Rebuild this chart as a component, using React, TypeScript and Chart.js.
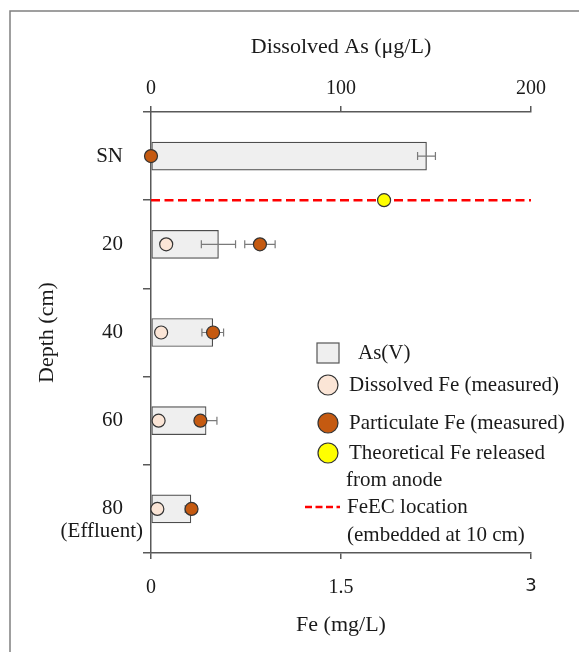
import React, { useEffect, useRef } from 'react';
import { Chart, registerables } from 'chart.js';

Chart.register(...registerables);

// ---- data ----
const depthLabels = ['SN', '20', '40', '60', '80'];
const depthIndex = [0, 1, 2, 3, 4];
const asV = [145, 35.5, 32.5, 29, 21];
const asVErr = [4.7, 9, 5.7, 5.7, 3];
const dissolvedFe: (number | null)[] = [null, 0.12, 0.08, 0.06, 0.05];
const particulateFe = [0, 0.86, 0.49, 0.39, 0.32];
const particulateFeErr = [0, 0.12, 0, 0, 0];
const feecPosition = 0.5; // 10 cm, between SN and 20
const theoreticalFe = [1.84];
const asTicks = [0, 100, 200];
const feTicks = [0, 1.5, 3];
const feRange = [0, 3];

const SERIF = '"Liberation Serif", "Times New Roman", serif';
const AXIS = '#595959';
const TEXT = '#1a1a1a';

function drawErr(ctx: CanvasRenderingContext2D, xs: any, ys: any, vals: number[], errs: number[]) {
  ctx.save();
  ctx.strokeStyle = '#7a7a7a';
  ctx.lineWidth = 1.2;
  vals.forEach((v, i) => {
    const e = errs[i];
    if (!e) return;
    const x1 = xs.getPixelForValue(v - e);
    const x2 = xs.getPixelForValue(v + e);
    const yc = ys.getPixelForValue(depthIndex[i]);
    ctx.beginPath();
    ctx.moveTo(x1, yc);
    ctx.lineTo(x2, yc);
    ctx.moveTo(x1, yc - 4);
    ctx.lineTo(x1, yc + 4);
    ctx.moveTo(x2, yc - 4);
    ctx.lineTo(x2, yc + 4);
    ctx.stroke();
  });
  ctx.restore();
}

const errorBarPlugin = {
  id: 'errorBars',
  afterDatasetDraw(chart: any, args: any) {
    if (args.index === 0) drawErr(chart.ctx, chart.scales.xAs, chart.scales.y, asV, asVErr);
  },
  beforeDatasetDraw(chart: any, args: any) {
    if (args.index === 3) drawErr(chart.ctx, chart.scales.xFe, chart.scales.y, particulateFe, particulateFeErr);
  },
};

const framePlugin = {
  id: 'frame',
  beforeDraw(chart: any) {
    const ctx = chart.ctx;
    ctx.save();
    ctx.strokeStyle = '#808080';
    ctx.lineWidth = 1.5;
    ctx.beginPath();
    ctx.moveTo(10, chart.height);
    ctx.lineTo(10, 11);
    ctx.lineTo(chart.width, 11);
    ctx.stroke();
    ctx.restore();
  },
};

const extrasPlugin = {
  id: 'extras',
  afterDraw(chart: any) {
    const ctx = chart.ctx as CanvasRenderingContext2D;
    const { left } = chart.chartArea;
    const ys = chart.scales.y;
    ctx.save();
    ctx.fillStyle = TEXT;
    ctx.font = `21px ${SERIF}`;
    ctx.textAlign = 'right';
    ctx.textBaseline = 'middle';
    ctx.fillText('(Effluent)', left - 8, ys.getPixelForValue(4) + 23);

    // legend
    const lx = left + 166;
    const tx = left + 198;
    ctx.textAlign = 'left';
    ctx.lineWidth = 1.2;
    // As(V)
    ctx.fillStyle = '#efefef';
    ctx.strokeStyle = '#555';
    ctx.fillRect(lx, 343, 22, 20);
    ctx.strokeRect(lx, 343, 22, 20);
    ctx.fillStyle = TEXT;
    ctx.fillText('As(V)', tx + 9, 353);
    const circ = (cy: number, fill: string) => {
      ctx.beginPath();
      ctx.arc(lx + 11, cy, 10, 0, Math.PI * 2);
      ctx.fillStyle = fill;
      ctx.fill();
      ctx.strokeStyle = '#333';
      ctx.stroke();
      ctx.fillStyle = TEXT;
    };
    circ(385, '#fbe5d6');
    ctx.fillText('Dissolved Fe (measured)', tx, 385);
    circ(423, '#c55a11');
    ctx.fillText('Particulate Fe (measured)', tx, 423);
    circ(453, '#ffff00');
    ctx.fillText('Theoretical Fe released', tx, 453);
    ctx.fillText('from anode', tx - 3, 480);
    ctx.save();
    ctx.strokeStyle = '#ff0000';
    ctx.lineWidth = 2.5;
    ctx.setLineDash([7, 3.5]);
    ctx.beginPath();
    ctx.moveTo(lx - 12, 507);
    ctx.lineTo(lx + 23, 507);
    ctx.stroke();
    ctx.restore();
    ctx.fillText('FeEC location', tx - 2, 507);
    ctx.fillText('(embedded at 10 cm)', tx - 2, 535);
    ctx.restore();
  },
};

export default function App() {
  const ref = useRef<HTMLCanvasElement | null>(null);
  useEffect(() => {
    if (!ref.current) return;
    const tickFont = { family: SERIF, size: 20 };
    const titleFont = { family: SERIF, size: 22 };
    const chart = new Chart(ref.current, {
      type: 'bar',
      data: {
        datasets: [
          {
            type: 'bar',
            label: 'As(V)',
            indexAxis: 'y',
            data: depthIndex.map((d, i) => ({ x: asV[i], y: d })),
            xAxisID: 'xAs',
            yAxisID: 'y',
            backgroundColor: '#efefef',
            borderColor: '#4d4d4d',
            borderWidth: 1.2,
            borderSkipped: false,
            barThickness: 28,
            grouped: false,
            clip: false,
            order: 5,
          } as any,
          {
            type: 'line',
            label: 'FeEC location',
            data: feRange.map((v) => ({ x: v, y: feecPosition })),
            xAxisID: 'xFe',
            yAxisID: 'y',
            borderColor: '#ff0000',
            borderWidth: 2.5,
            borderDash: [9, 4.5],
            pointRadius: 0,
            fill: false,
            clip: false,
            order: 4,
          } as any,
          {
            type: 'scatter',
            label: 'Dissolved Fe (measured)',
            data: depthIndex
              .map((d, i) => ({ x: dissolvedFe[i], y: d }))
              .filter((p) => p.x !== null),
            xAxisID: 'xFe',
            yAxisID: 'y',
            backgroundColor: '#fbe5d6',
            borderColor: '#333333',
            borderWidth: 1.2,
            pointRadius: 6.5,
            clip: false,
            order: 3,
          } as any,
          {
            type: 'scatter',
            label: 'Particulate Fe (measured)',
            data: depthIndex.map((d, i) => ({ x: particulateFe[i], y: d })),
            xAxisID: 'xFe',
            yAxisID: 'y',
            backgroundColor: '#c55a11',
            borderColor: '#333333',
            borderWidth: 1.2,
            pointRadius: 6.5,
            clip: false,
            order: 2,
          } as any,
          {
            type: 'scatter',
            label: 'Theoretical Fe released from anode',
            data: theoreticalFe.map((v) => ({ x: v, y: feecPosition })),
            xAxisID: 'xFe',
            yAxisID: 'y',
            backgroundColor: '#ffff00',
            borderColor: '#333333',
            borderWidth: 1.2,
            pointRadius: 6.5,
            clip: false,
            order: 1,
          } as any,
        ],
      },
      options: {
        animation: false,
        responsive: false,
        devicePixelRatio: 1,
        layout: { padding: { left: 0, right: 48, top: 0, bottom: 0 } },
        plugins: { legend: { display: false }, tooltip: { enabled: false } },
        scales: {
          y: {
            type: 'linear',
            position: 'left',
            reverse: true,
            offset: false,
            min: -0.5,
            max: 4.5,
            afterBuildTicks: (s: any) => {
              s.ticks = depthIndex.map((v) => ({ value: v }));
            },
            afterFit: (s: any) => {
              s.width = 151;
            },
            ticks: {
              callback: (v: any) => depthLabels[v] ?? '',
              font: { family: SERIF, size: 21 },
              color: TEXT,
              padding: 20,
              autoSkip: false,
            },
            grid: {
              display: true,
              drawOnChartArea: false,
              drawTicks: true,
              tickLength: 8,
              offset: true,
              color: AXIS,
              lineWidth: 1.5,
            },
            border: { display: true, color: AXIS, width: 1.5 },
            title: {
              display: true,
              text: 'Depth (cm)',
              font: titleFont,
              color: TEXT,
              padding: { top: 34, bottom: 0 },
            },
          },
          xAs: {
            type: 'linear',
            axis: 'x',
            position: 'top',
            offset: false,
            min: 0,
            max: 200,
            afterBuildTicks: (s: any) => {
              s.ticks = asTicks.map((v) => ({ value: v }));
            },
            afterFit: (s: any) => {
              s.height = 112;
            },
            ticks: { font: tickFont, color: TEXT, padding: 5 },
            grid: {
              display: true,
              drawOnChartArea: false,
              drawTicks: true,
              tickLength: 6,
              offset: false,
              color: AXIS,
              lineWidth: 1.5,
            },
            border: { display: true, color: AXIS, width: 1.5 },
            title: {
              display: true,
              text: 'Dissolved As (μg/L)',
              font: titleFont,
              color: TEXT,
              padding: { top: 34, bottom: 0 },
            },
          },
          xFe: {
            type: 'linear',
            axis: 'x',
            position: 'bottom',
            offset: false,
            min: 0,
            max: 3,
            afterBuildTicks: (s: any) => {
              s.ticks = feTicks.map((v) => ({ value: v }));
            },
            afterFit: (s: any) => {
              s.height = 99;
            },
            ticks: {
              font: (c: any) =>
                c.tick && c.tick.value === 3
                  ? { family: '"DejaVu Sans", sans-serif', size: 18 }
                  : tickFont,
              color: TEXT,
              padding: 17,
            },
            grid: {
              display: true,
              drawOnChartArea: false,
              drawTicks: true,
              tickLength: 6,
              offset: false,
              color: AXIS,
              lineWidth: 1.5,
            },
            border: { display: true, color: AXIS, width: 1.5 },
            title: {
              display: true,
              text: 'Fe (mg/L)',
              font: titleFont,
              color: TEXT,
              padding: { top: 0, bottom: 14 },
            },
          },
        },
      } as any,
      plugins: [framePlugin, errorBarPlugin, extrasPlugin],
    });
    return () => chart.destroy();
  }, []);
  return (
    <div style={{ position: 'absolute', left: 0, top: 0, width: 579, height: 652 }}>
      <canvas ref={ref} width={579} height={652} style={{ display: 'block' }} />
    </div>
  );
}
